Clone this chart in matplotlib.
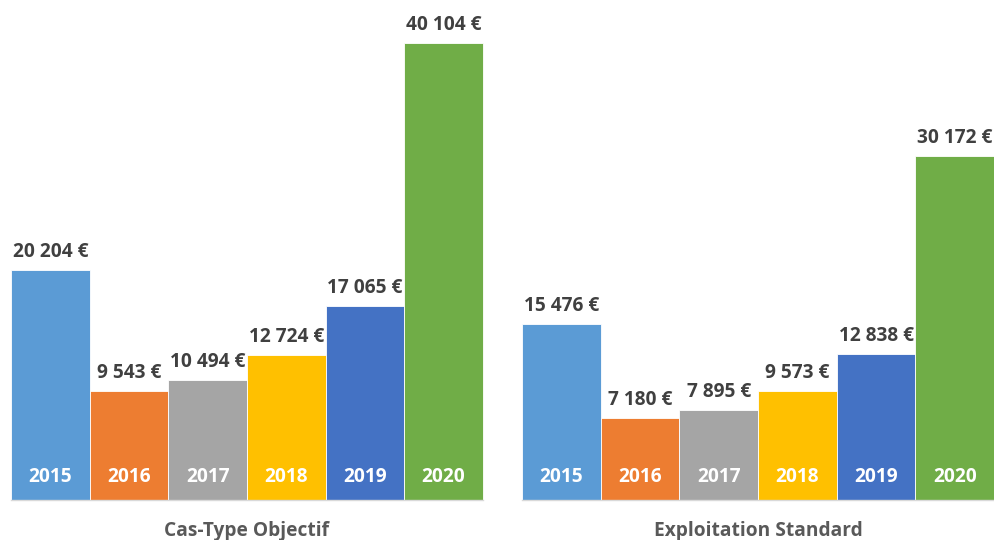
import matplotlib
matplotlib.use("Agg")
import matplotlib.pyplot as plt

# data
years = ["2015", "2016", "2017", "2018", "2019", "2020"]
groups = ["Cas-Type Objectif", "Exploitation Standard"]
objectif = [20204, 9543, 10494, 12724, 17065, 40104]
standard = [15476, 7180, 7895, 9573, 12838, 30172]
colors = ["#5B9BD5", "#ED7D31", "#A5A5A5", "#FFC000", "#4472C4", "#70AD47"]

plt.rcParams["font.family"] = ["Open Sans", "DejaVu Sans"]
PX = 72 / 100  # points per pixel at dpi 100


def fmt(v):
    return f"{v:,}".replace(",", " ") + " €"


fig = plt.figure(figsize=(9.95, 5.4), dpi=100)
ax = fig.add_axes([11 / 995, 40 / 540, 983 / 995, 500 / 540])
ax.set_xlim(-0.5, 12.0)
ax.set_ylim(0, 40104 * 500 / 457)
ax.axis("off")

for g, (name, vals) in enumerate(zip(groups, [objectif, standard])):
    offset = g * 6.5
    xs = [offset + i for i in range(len(years))]
    ax.bar(xs, vals, width=1.0, color=colors, edgecolor="white", linewidth=0.6)
    for x, v, yr in zip(xs, vals, years):
        ax.annotate(fmt(v), (x, v), xytext=(0, 8 * PX), textcoords="offset points",
                    ha="center", va="bottom", fontsize=13.8, fontweight="bold",
                    color="#404040")
        ax.annotate(yr, (x, 0), xytext=(0, 23 * PX), textcoords="offset points",
                    ha="center", va="center", fontsize=13.8, fontweight="bold",
                    color="white")
    ax.plot([offset - 0.5, offset + 5.5], [0, 0], color="#D9D9D9", linewidth=1,
            clip_on=False)
    ax.annotate(name, (offset + 2.5, 0), xytext=(0, -31 * PX), textcoords="offset points",
                ha="center", va="center", fontsize=13.8, fontweight="bold",
                color="#595959", annotation_clip=False)

fig.savefig("out.png", dpi=100, facecolor="white")
